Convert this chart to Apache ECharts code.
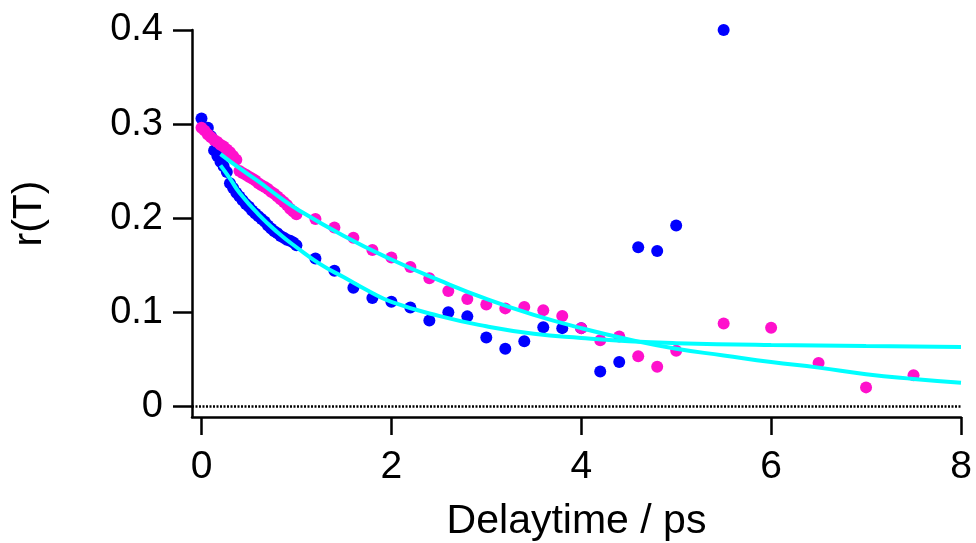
<!DOCTYPE html>
<html>
<head>
<meta charset="utf-8">
<script src="https://cdn.jsdelivr.net/npm/echarts@6/dist/echarts.min.js"></script>
<style>
html,body{margin:0;padding:0;background:#fff;}
#chart{width:976px;height:543px;}
</style>
</head>
<body>
<div id="chart"></div>
<script>
// Blue data points (delay time / ps, r(T))
const blueT = [0.000,0.067,0.100,0.133,0.167,0.200,0.233,0.267,0.300,0.333,0.367,0.400,0.433,0.467,0.500,0.533,0.567,0.600,0.633,0.667,0.700,0.733,0.767,0.800,0.833,0.867,0.900,0.933,0.967,1.000,
  1.2,1.4,1.6,1.8,2.0,2.2,2.4,2.6,2.8,3.0,3.2,3.4,3.6,3.8,4.0,4.2,4.4,4.6,4.8,5.0,5.5];
const blueR = [0.306,0.296,0.287,0.272,0.266,0.260,0.255,0.249,0.237,0.232,0.227,0.223,0.219,0.215,0.212,0.208,0.205,0.202,0.199,0.196,0.192,0.189,0.186,0.184,0.181,0.179,0.177,0.176,0.174,0.171,
  0.157,0.144,0.126,0.115,0.111,0.105,0.091,0.100,0.0955,0.073,0.061,0.069,0.084,0.083,0.083,0.037,0.047,0.169,0.165,0.192,0.400];

// Magenta data points
const magT = [0.000,0.033,0.067,0.100,0.133,0.167,0.200,0.233,0.267,0.300,0.333,0.367,0.400,0.433,0.467,0.500,0.533,0.567,0.600,0.633,0.667,0.700,0.733,0.767,0.800,0.833,0.867,0.900,0.933,0.967,1.000,
  1.2,1.4,1.6,1.8,2.0,2.2,2.4,2.6,2.8,3.0,3.2,3.4,3.6,3.8,4.0,4.2,4.4,4.6,4.8,5.0,5.5,6.0,6.5,7.0,7.5];
const magR = [0.296,0.293,0.289,0.286,0.283,0.281,0.278,0.276,0.273,0.270,0.266,0.262,0.250,0.248,0.246,0.244,0.242,0.240,0.237,0.235,0.233,0.231,0.228,0.226,0.223,0.220,0.217,0.214,0.210,0.207,0.204,
  0.199,0.190,0.179,0.166,0.158,0.148,0.136,0.1225,0.114,0.108,0.104,0.1055,0.102,0.096,0.083,0.070,0.074,0.053,0.042,0.059,0.088,0.0835,0.046,0.020,0.033];

// Fit curves (cyan)
const fitBlueT = [0.2,0.3,0.4,0.6,0.8,1.0,1.25,1.5,1.75,2.0,2.5,3.0,3.5,4.0,4.5,5.0,6.0,7.0,8.0];
const fitBlueR = [0.256,0.242,0.227,0.204,0.185,0.169,0.151,0.137,0.123,0.111,0.096,0.085,0.077,0.0725,0.069,0.067,0.065,0.064,0.063];
const fitMagT = [0.2,0.4,0.6,0.8,1.0,1.5,2.0,2.5,3.0,3.5,4.0,4.5,5.0,5.5,6.0,6.5,7.0,7.5,8.0];
const fitMagR = [0.268,0.253,0.239,0.224,0.210,0.181,0.156,0.134,0.114,0.097,0.083,0.071,0.061,0.054,0.047,0.041,0.034,0.029,0.025];

// Tick values
const xTicks = [0,2,4,6,8];
const yTicks = [0,0.1,0.2,0.3,0.4];

const pairs = (a, b) => a.map((v, i) => [v, b[i]]);
const FONT = 'Liberation Sans, Arial, sans-serif';

const chart = echarts.init(document.getElementById('chart'), null, {renderer: 'canvas'});
chart.setOption({
  animation: false,
  backgroundColor: '#ffffff',
  grid: {left: 192, right: 15, top: 30, bottom: 126, containLabel: false, outerBoundsMode: 'none'},
  xAxis: {
    type: 'value', min: -0.1, max: 8,
    axisLine: {show: true, onZero: false, lineStyle: {color: '#000', width: 2.5}},
    axisTick: {show: true, inside: false, length: 18, customValues: xTicks, lineStyle: {color: '#000', width: 2.5}},
    axisLabel: {show: true, customValues: xTicks, margin: 31, color: '#000', fontSize: 39, fontFamily: FONT},
    splitLine: {show: false},
    name: 'Delaytime / ps', nameLocation: 'middle', nameGap: 84,
    nameTextStyle: {color: '#000', fontSize: 41, fontFamily: FONT}
  },
  yAxis: {
    type: 'value', min: -0.0115, max: 0.4,
    axisLine: {show: true, onZero: false, lineStyle: {color: '#000', width: 2.5}},
    axisTick: {show: true, inside: false, length: 19, customValues: yTicks, lineStyle: {color: '#000', width: 2.5}},
    axisLabel: {show: true, customValues: yTicks, margin: 29, color: '#000', fontSize: 38, fontFamily: FONT},
    splitLine: {show: false},
    name: 'r(T)', nameLocation: 'middle', nameGap: 142, nameRotate: 90,
    nameTextStyle: {color: '#000', fontSize: 41, fontFamily: FONT, padding: [0, 0, 0, 20]}
  },
  series: [
    {
      type: 'scatter', name: 'blue', data: pairs(blueT, blueR),
      symbol: 'circle', symbolSize: 12, itemStyle: {color: '#0000ff', opacity: 1},
      markLine: {
        silent: true, symbol: ['none', 'none'], label: {show: false},
        lineStyle: {color: '#000', width: 2.5, type: [2, 1.5]},
        data: [{yAxis: 0}]
      }
    },
    {
      type: 'scatter', name: 'magenta', data: pairs(magT, magR),
      symbol: 'circle', symbolSize: 12, itemStyle: {color: '#ff10cc', opacity: 1}
    },
    {
      type: 'line', name: 'fitBlue', data: pairs(fitBlueT, fitBlueR),
      showSymbol: false, smooth: true, lineStyle: {color: '#00ffff', width: 4}
    },
    {
      type: 'line', name: 'fitMag', data: pairs(fitMagT, fitMagR),
      showSymbol: false, smooth: true, lineStyle: {color: '#00ffff', width: 4}
    }
  ]
});
</script>
</body>
</html>
